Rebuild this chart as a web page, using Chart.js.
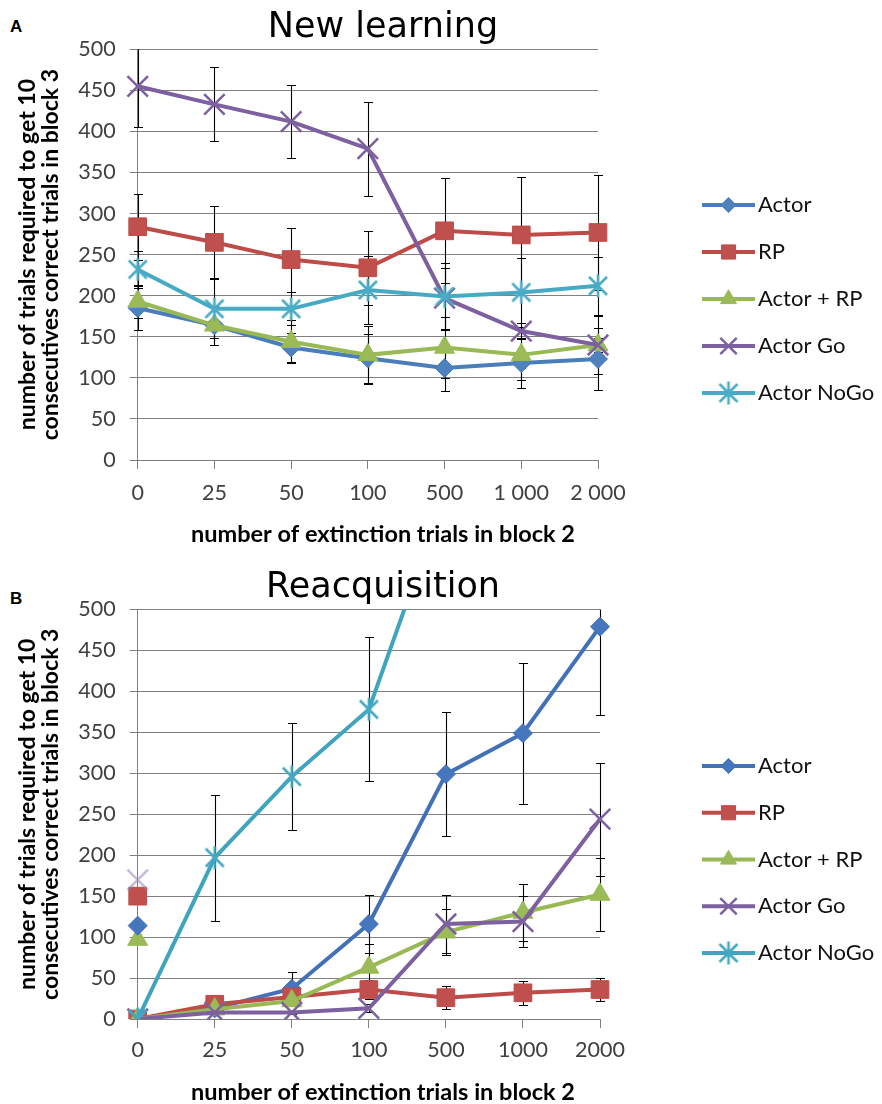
<!DOCTYPE html>
<html><head><meta charset="utf-8">
<script src="https://cdn.jsdelivr.net/npm/chart.js@4"></script>
<style>
html,body{margin:0;padding:0;background:#fff;overflow:hidden;width:882px;height:1104px;}
.panel{position:absolute;left:0;width:882px;}
#wa{top:0;height:552px}
#wb{top:560px;height:544px}
.lbl{position:absolute;left:10px;font:bold 17px "Liberation Sans",Arial,sans-serif;line-height:17px;color:#000}
</style></head><body>
<div class="lbl" style="top:18px">A</div>
<div class="lbl" style="top:590px">B</div>
<div class="panel" id="wa"><canvas id="ca" width="882" height="552"></canvas></div>
<div class="panel" id="wb"><canvas id="cb" width="882" height="544"></canvas></div>
<script>
// ---------- data ----------
const seriesNames = ["Actor", "RP", "Actor + RP", "Actor Go", "Actor NoGo"];
const xLabelsA = ["0", "25", "50", "100", "500", "1 000", "2 000"];
const xLabelsB = ["0", "25", "50", "100", "500", "1000", "2000"];
const titleA = "New learning";
const titleB = "Reacquisition";
const yTitle = ["number of trials required to get 10", "consecutives correct trials in block 3"];
const xTitle = "number of extinction trials in block 2";

// Panel A: New learning
const actorA   = [185, 164, 137, 124, 112, 118, 123];
const rpA      = [284, 265, 244, 234, 279, 274, 277];
const actorRpA = [193, 164, 144, 128, 137, 128, 140];
const goA      = [455, 433, 412, 379, 197, 157, 140];
const noGoA    = [232, 184, 184, 207, 199, 204, 212];
const actorErrA   = [27, 24, 18, 30, 28, 30, 38];
const rpErrA      = [40, 44, 39, 45, 64, 71, 70];
const actorRpErrA = [20, 24, 26, 35, 37, 30, 35];
const goErrA      = [50, 45, 44, 57, 37, 10, 8];
const noGoErrA    = [22, 36, 20, 41, 41, 42, 35];

// Panel B: Reacquisition
const actorB   = [0, 13, 37, 116, 299, 349, 479];
const rpB      = [0, 18, 27, 36, 26, 32, 36];
const actorRpB = [0, 12, 22, 63, 106, 130, 152];
const goB      = [0, 8, 8, 13, 116, 119, 244];
const noGoB    = [0, 197, 296, 378, 643, null, null];
const actorErrB   = [0, 3, 20, 35, 76, 86, 108];
const rpErrB      = [0, 3, 5, 12, 14, 15, 14];
const actorRpErrB = [0, 3, 5, 28, 28, 35, 45];
const goErrB      = [0, 2, 2, 5, 35, 31, 69];
const noGoErrB    = [0, 77, 65, 88, 0, 0, 0];
// isolated markers drawn at x = 0 in panel B
const strayActorB   = [114, null, null, null, null, null, null];
const strayRpB      = [150, null, null, null, null, null, null];
const strayActorRpB = [97, null, null, null, null, null, null];
const strayGoB      = [170, null, null, null, null, null, null];

// ---------- styles ----------
function asterisk(color, size, lw) {
  const c = document.createElement('canvas');
  c.width = c.height = size;
  const g = c.getContext('2d');
  g.strokeStyle = color; g.lineWidth = lw;
  const m = 3;
  g.beginPath();
  g.moveTo(m, m); g.lineTo(size - m, size - m);
  g.moveTo(size - m, m); g.lineTo(m, size - m);
  g.moveTo(size / 2, 0.5); g.lineTo(size / 2, size - 0.5);
  g.stroke();
  return c;
}
const palA = [
  {line: '#4A7EBB', fill: '#4F81BD', style: 'rectRot', r: 9.5, bw: 1},
  {line: '#BE4B48', fill: '#C0504D', style: 'rect', r: 12.5, bw: 1},
  {line: '#98B954', fill: '#9BBB59', style: 'triangle', r: 11.5, bw: 1},
  {line: '#7D60A0', fill: '#8064A2', style: 'crossRot', r: 14.5, bw: 2.5},
  {line: '#46AAC5', fill: '#4BACC6', style: asterisk('#4BACC6', 24, 2.6), r: 12, bw: 0}
];
const palB = [
  {line: '#4271B8', fill: '#4676BD', style: 'rectRot', r: 9.5, bw: 1},
  {line: '#BE4B48', fill: '#C0504D', style: 'rect', r: 12.5, bw: 1},
  {line: '#98B954', fill: '#9BBB59', style: 'triangle', r: 11.5, bw: 1},
  {line: '#7D60A0', fill: '#8064A2', style: 'crossRot', r: 14.5, bw: 2.5},
  {line: '#40A4BE', fill: '#44A8C2', style: asterisk('#44A8C2', 24, 2.6), r: 12, bw: 0}
];

function series(label, data, err, st, order) {
  return {
    label, legendLabel: label, data, errorBars: err,
    borderColor: st.line, backgroundColor: st.fill, borderWidth: 4,
    pointStyle: st.style, pointRadius: st.r, pointHoverRadius: st.r,
    pointBackgroundColor: st.fill, pointBorderColor: st.line,
    pointBorderWidth: st.bw, tension: 0, order
  };
}
function stray(data, st, color) {
  return {
    label: '', data, showLine: false,
    pointStyle: st.style, pointRadius: st.r, pointHoverRadius: st.r,
    pointBackgroundColor: color || st.fill, pointBorderColor: color || st.line,
    pointBorderWidth: st.bw, order: 6
  };
}

// ---------- plugins ----------
const errorBarPlugin = {
  id: 'errorBarPlugin',
  beforeDatasetsDraw(chart) {
    const {ctx, chartArea, scales} = chart;
    const y = scales.y;
    ctx.save();
    ctx.beginPath();
    ctx.rect(chartArea.left - 6, chartArea.top, chartArea.width + 12, chartArea.height);
    ctx.clip();
    ctx.strokeStyle = '#000';
    ctx.lineWidth = 1.1;
    chart.data.datasets.forEach((d, i) => {
      if (!d.errorBars) return;
      const meta = chart.getDatasetMeta(i);
      meta.data.forEach((pt, j) => {
        const v = d.data[j], e = d.errorBars[j];
        if (v == null || !e) return;
        const x = Math.round(pt.x) + 0.5;
        const yt = Math.round(y.getPixelForValue(v + e)) + 0.5;
        const yb = Math.round(y.getPixelForValue(v - e)) + 0.5;
        ctx.beginPath();
        ctx.moveTo(x, yt); ctx.lineTo(x, yb);
        ctx.moveTo(x - 4.5, yt); ctx.lineTo(x + 4.5, yt);
        ctx.moveTo(x - 4.5, yb); ctx.lineTo(x + 4.5, yb);
        ctx.stroke();
      });
    });
    ctx.restore();
  }
};

const lineLegendPlugin = {
  id: 'lineLegend',
  afterDraw(chart, args, opts) {
    const ctx = chart.ctx;
    ctx.save();
    let k = 0;
    chart.data.datasets.forEach((d) => {
      if (!d.legendLabel) return;
      const y = opts.top + k * opts.gap;
      ctx.strokeStyle = d.borderColor;
      ctx.lineWidth = 4;
      ctx.beginPath();
      ctx.moveTo(opts.x0, y); ctx.lineTo(opts.x1, y);
      ctx.stroke();
      ctx.fillStyle = d.pointBackgroundColor;
      ctx.strokeStyle = d.pointBorderColor;
      ctx.lineWidth = d.pointBorderWidth;
      Chart.helpers.drawPoint(ctx, {
        pointStyle: d.pointStyle, rotation: 0,
        radius: typeof d.pointStyle === 'string' ? d.pointRadius * 0.8 : d.pointRadius,
        borderWidth: d.pointBorderWidth
      }, (opts.x0 + opts.x1) / 2, y);
      ctx.fillStyle = '#111';
      ctx.font = opts.font;
      ctx.textBaseline = 'middle';
      ctx.textAlign = 'left';
      ctx.fillText(d.legendLabel, opts.textX, y);
      k++;
    });
    ctx.restore();
  }
};

// ---------- chart builder ----------
const X_TITLE_SIZE = 23.5;
function build(id, title, labels, datasets, g) {
  const subH = X_TITLE_SIZE + g.xTitlePad;
  return new Chart(document.getElementById(id), {
    type: 'line',
    data: {labels, datasets},
    plugins: [errorBarPlugin, lineLegendPlugin],
    options: {
      responsive: false,
      animation: false,
      devicePixelRatio: 1,
      events: [],
      layout: {padding: {left: 0, right: g.padRight, top: 0, bottom: 0}},
      plugins: {
        legend: {display: false},
        tooltip: {enabled: false},
        title: {
          display: true, text: title, color: '#000',
          font: {family: 'DejaVu Sans', size: 35, weight: 'normal', lineHeight: 1.2},
          padding: {top: g.titleTop, bottom: g.titleBottom}
        },
        subtitle: {
          display: true, position: 'bottom', text: xTitle, color: '#000',
          font: {family: 'Lato', size: X_TITLE_SIZE, weight: 'bold', lineHeight: 1},
          padding: {top: 0, bottom: g.xTitlePad}
        },
        lineLegend: {x0: 702, x1: 755, textX: 758, top: g.legTop, gap: g.legGap, font: '22px Lato'}
      },
      scales: {
        x: {
          type: 'category', offset: false,
          grid: {display: true, drawOnChartArea: false, drawTicks: true, tickLength: 9, color: '#808080', lineWidth: 1},
          border: {display: true, color: '#808080', width: 1},
          ticks: {font: {family: 'Lato', size: 21.5}, color: '#404040', padding: g.xTickPad, maxRotation: 0, autoSkip: false},
          title: {display: false},
          afterFit: s => { s.height = g.canvasH - g.chartBottom - subH; }
        },
        y: {
          type: 'linear', min: 0, max: 500,
          grid: {color: '#808080', lineWidth: 1, drawTicks: true, tickLength: 8},
          border: {display: true, color: '#808080', width: 1},
          ticks: {stepSize: 50, font: {family: 'Lato', size: 21.5}, color: '#404040', padding: 14},
          title: {display: true, text: yTitle, color: '#000',
                  font: {family: 'Lato', size: 23, weight: 'bold', lineHeight: '23.5px'},
                  padding: {top: 15.5, bottom: 0}},
          afterFit: s => { s.width = 137.7; }
        },
        spacer: {
          type: 'linear', position: 'right', display: true,
          grid: {display: false}, ticks: {display: false}, border: {display: false},
          afterFit: s => { s.width = g.spacer; }
        }
      }
    }
  });
}

build('ca', titleA, xLabelsA, [
  series(seriesNames[0], actorA, actorErrA, palA[0], 5),
  series(seriesNames[1], rpA, rpErrA, palA[1], 4),
  series(seriesNames[2], actorRpA, actorRpErrA, palA[2], 3),
  series(seriesNames[3], goA, goErrA, palA[3], 2),
  series(seriesNames[4], noGoA, noGoErrA, palA[4], 1)
], {canvasH: 552, chartBottom: 460, padRight: 116, spacer: 168, titleTop: 6.9, titleBottom: 0.4,
    xTickPad: 11, xTitlePad: 6.3, legTop: 205, legGap: 47});

build('cb', titleB, xLabelsB, [
  series(seriesNames[0], actorB, actorErrB, palB[0], 5),
  series(seriesNames[1], rpB, rpErrB, palB[1], 4),
  series(seriesNames[2], actorRpB, actorRpErrB, palB[2], 3),
  series(seriesNames[3], goB, goErrB, palB[3], 2),
  series(seriesNames[4], noGoB, noGoErrB, palB[4], 1),
  stray(strayGoB, palB[3], 'rgba(150,130,190,0.55)'),
  stray(strayRpB, palB[1]),
  stray(strayActorB, palB[0]),
  stray(strayActorRpB, palB[2])
], {canvasH: 544, chartBottom: 459, padRight: 116, spacer: 166, titleTop: 7.1, titleBottom: 0.4,
    xTickPad: 9, xTitlePad: 0.3, legTop: 206, legGap: 46.75});
</script>
</body></html>
